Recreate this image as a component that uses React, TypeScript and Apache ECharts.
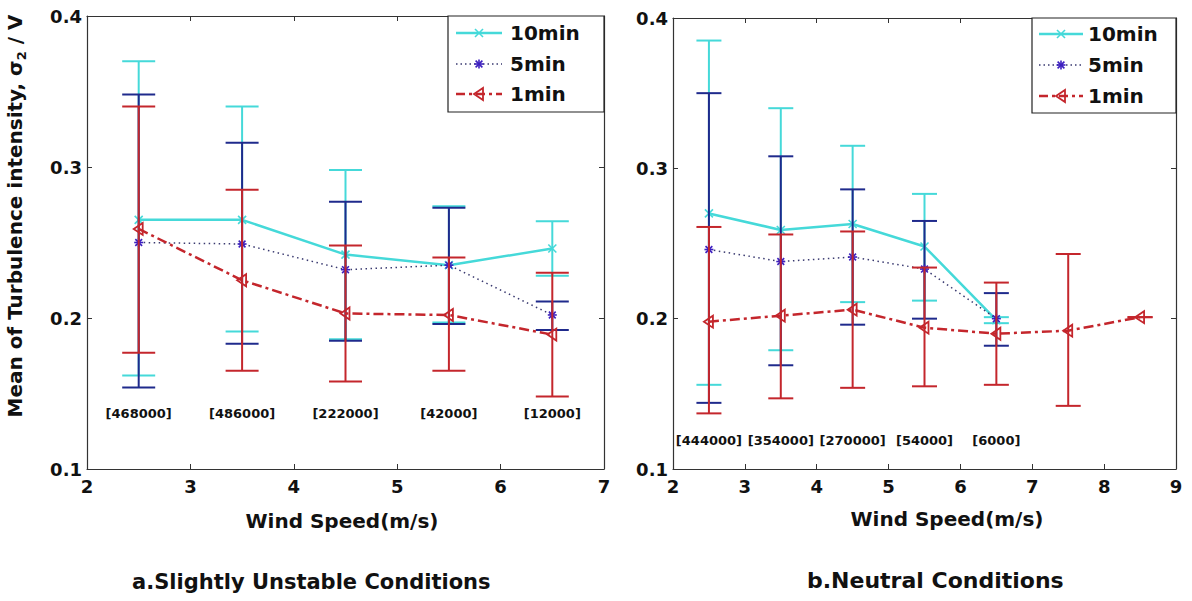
import React, { useEffect, useRef } from "react";
import * as echarts from "echarts";

// ---------- data: panel a (Slightly Unstable) ----------
const windA = [2.5, 3.5, 4.5, 5.5, 6.5];
const a10Mean = [0.265, 0.265, 0.242, 0.235, 0.246];
const a10Low = [0.162, 0.191, 0.186, 0.197, 0.228];
const a10High = [0.37, 0.34, 0.298, 0.274, 0.264];
const a5Mean = [0.25, 0.249, 0.232, 0.235, 0.202];
const a5Low = [0.154, 0.183, 0.185, 0.196, 0.192];
const a5High = [0.348, 0.316, 0.277, 0.273, 0.211];
const a1Mean = [0.259, 0.225, 0.203, 0.202, 0.189];
const a1Low = [0.177, 0.165, 0.158, 0.165, 0.148];
const a1High = [0.34, 0.285, 0.248, 0.24, 0.23];
const countsA = ["[468000]", "[486000]", "[222000]", "[42000]", "[12000]"];

// ---------- data: panel b (Neutral) ----------
const windB = [2.5, 3.5, 4.5, 5.5, 6.5];
const b10Mean = [0.27, 0.259, 0.263, 0.248, 0.199];
const b10Low = [0.156, 0.179, 0.211, 0.212, 0.197];
const b10High = [0.385, 0.34, 0.315, 0.283, 0.201];
const b5Mean = [0.246, 0.238, 0.241, 0.233, 0.2];
const b5Low = [0.144, 0.169, 0.196, 0.2, 0.182];
const b5High = [0.35, 0.308, 0.286, 0.265, 0.217];
const windB1 = [2.5, 3.5, 4.5, 5.5, 6.5, 7.5, 8.5];
const b1Mean = [0.198, 0.202, 0.206, 0.194, 0.19, 0.192, 0.201];
const b1Low = [0.137, 0.147, 0.154, 0.155, 0.156, 0.142, 0.201];
const b1High = [0.261, 0.256, 0.258, 0.234, 0.224, 0.243, 0.201];
const countsB = ["[444000]", "[354000]", "[270000]", "[54000]", "[6000]"];

const seriesNames = ["10min", "5min", "1min"];
const yTicks = { min: 0.1, max: 0.4, interval: 0.1 };

const FONT = '"DejaVu Sans", "Liberation Sans", sans-serif';
const CYAN = "#45d9d9";
const NAVY = "#1f2a8c";
const DOTS = "#3a3a70";
const STAR = "#3c1fc0";
const RED = "#c4262c";

function marker(kind: string, cx: number, cy: number, color: string): any[] {
  const st = { stroke: color, lineWidth: 1.6, fill: "none" };
  if (kind === "x") {
    const s = 4;
    return [
      { type: "line", shape: { x1: cx - s, y1: cy - s, x2: cx + s, y2: cy + s }, style: st },
      { type: "line", shape: { x1: cx - s, y1: cy + s, x2: cx + s, y2: cy - s }, style: st },
    ];
  }
  if (kind === "*") {
    const s = 4.5;
    const d = 3.4;
    return [
      { type: "line", shape: { x1: cx, y1: cy - s, x2: cx, y2: cy + s }, style: st },
      { type: "line", shape: { x1: cx - s, y1: cy, x2: cx + s, y2: cy }, style: st },
      { type: "line", shape: { x1: cx - d, y1: cy - d, x2: cx + d, y2: cy + d }, style: st },
      { type: "line", shape: { x1: cx - d, y1: cy + d, x2: cx + d, y2: cy - d }, style: st },
    ];
  }
  return [
    {
      type: "polygon",
      shape: { points: [[cx - 5, cy], [cx + 4, cy - 6], [cx + 4, cy + 6]] },
      style: { stroke: color, lineWidth: 1.8, fill: "none" },
    },
  ];
}

function lineSeries(name: string, xs: number[], ys: number[], idx: number, style: any, z: number) {
  return {
    type: "line",
    name,
    xAxisIndex: idx,
    yAxisIndex: idx,
    data: xs.map((x, i) => [x, ys[i]]),
    symbol: "none",
    lineStyle: style,
    z,
    silent: true,
  };
}

function errSeries(
  xs: number[], means: number[], lows: number[], highs: number[],
  barColor: string, kind: string, markColor: string, idx: number, capPx: number, z: number
) {
  return {
    type: "custom",
    xAxisIndex: idx,
    yAxisIndex: idx,
    z,
    silent: true,
    data: xs.map((x, i) => [x, means[i], lows[i], highs[i]]),
    renderItem: (params: any, api: any) => {
      const x = api.value(0);
      const m = api.coord([x, api.value(1)]);
      const lo = api.coord([x, api.value(2)]);
      const hi = api.coord([x, api.value(3)]);
      const st = { stroke: barColor, lineWidth: 2 };
      const h = capPx / 2;
      return {
        type: "group",
        children: [
          { type: "line", shape: { x1: lo[0], y1: lo[1], x2: hi[0], y2: hi[1] }, style: st },
          { type: "line", shape: { x1: lo[0] - h, y1: lo[1], x2: lo[0] + h, y2: lo[1] }, style: st },
          { type: "line", shape: { x1: hi[0] - h, y1: hi[1], x2: hi[0] + h, y2: hi[1] }, style: st },
          ...marker(kind, m[0], m[1], markColor),
        ],
      };
    },
  };
}

function countSeries(xs: number[], labels: string[], yPos: number, idx: number) {
  return {
    type: "custom",
    xAxisIndex: idx,
    yAxisIndex: idx,
    z: 20,
    silent: true,
    data: xs.map((x) => [x, yPos]),
    renderItem: (params: any, api: any) => {
      const p = api.coord([api.value(0), api.value(1)]);
      return {
        type: "text",
        x: p[0],
        y: p[1],
        style: {
          text: labels[params.dataIndex],
          font: `bold 13px ${FONT}`,
          fill: "#111",
          align: "center",
          verticalAlign: "middle",
        },
      };
    },
  };
}

function xAxis(gridIndex: number, max: number, position: string, showLabel: boolean) {
  return {
    type: "value",
    gridIndex,
    position,
    min: 2,
    max,
    interval: 1,
    axisLine: { show: true, onZero: false, lineStyle: { color: "#333", width: 1.2 } },
    axisTick: { show: true, inside: true, length: 5, lineStyle: { color: "#333" } },
    axisLabel: {
      show: showLabel,
      margin: 8,
      fontFamily: FONT,
      fontWeight: "bold",
      fontSize: 18,
      color: "#111",
    },
    splitLine: { show: false },
  };
}

function yAxis(gridIndex: number, position: string, showLabel: boolean) {
  return {
    type: "value",
    gridIndex,
    position,
    min: yTicks.min,
    max: yTicks.max,
    interval: yTicks.interval,
    axisLine: { show: true, onZero: false, lineStyle: { color: "#333", width: 1.2 } },
    axisTick: { show: true, inside: true, length: 5, lineStyle: { color: "#333" } },
    axisLabel: {
      show: showLabel,
      margin: 5,
      fontFamily: FONT,
      fontWeight: "bold",
      fontSize: 18,
      color: "#111",
      formatter: (v: number) => v.toFixed(1),
    },
    splitLine: { show: false },
  };
}

function legendGraphic(bx: number, by: number, bw: number, bh: number, lx1: number, lx2: number, tx: number, rows: number[]) {
  const mid = (lx1 + lx2) / 2;
  const styles = [
    { stroke: CYAN, lineWidth: 2.5 },
    { stroke: DOTS, lineWidth: 1.5, lineDash: [1.5, 3] },
    { stroke: RED, lineWidth: 2.5, lineDash: [9, 4, 3, 4] },
  ];
  const kinds = ["x", "*", "<"];
  const mcols = [CYAN, STAR, RED];
  const els: any[] = [
    { type: "rect", shape: { x: bx, y: by, width: bw, height: bh }, style: { fill: "#fff", stroke: "#222", lineWidth: 1.2 }, z: 50 },
  ];
  rows.forEach((ry, i) => {
    els.push({ type: "line", shape: { x1: lx1, y1: ry, x2: lx2, y2: ry }, style: styles[i], z: 51 });
    marker(kinds[i], mid, ry, mcols[i]).forEach((e) => els.push({ ...e, z: 52 }));
    els.push({
      type: "text",
      x: tx,
      y: ry,
      z: 52,
      style: { text: seriesNames[i], font: `bold 20px ${FONT}`, fill: "#111", verticalAlign: "middle", align: "left" },
    });
  });
  return els;
}

export default function App() {
  const ref = useRef<HTMLDivElement>(null);
  useEffect(() => {
    if (!ref.current) return;
    const chart = echarts.init(ref.current, null, { renderer: "svg" });
    const solid = { color: CYAN, width: 2.5, type: "solid" };
    const dotted = { color: DOTS, width: 1.5, type: [1.5, 3.5] };
    const dashdot = { color: RED, width: 2.5, type: [10, 4, 3, 4] };
    const option: any = {
      animation: false,
      backgroundColor: "#fff",
      grid: [
        { left: 87, top: 16, width: 517, height: 453 },
        { left: 673, top: 18, width: 503, height: 451 },
      ],
      xAxis: [
        xAxis(0, 7, "bottom", true),
        xAxis(1, 9, "bottom", true),
        xAxis(0, 7, "top", false),
        xAxis(1, 9, "top", false),
      ],
      yAxis: [
        yAxis(0, "left", true),
        yAxis(1, "left", true),
        yAxis(0, "right", false),
        yAxis(1, "right", false),
      ],
      series: [
        lineSeries("10min", windA, a10Mean, 0, solid, 2),
        errSeries(windA, a10Mean, a10Low, a10High, CYAN, "x", CYAN, 0, 33, 3),
        lineSeries("5min", windA, a5Mean, 0, dotted, 4),
        errSeries(windA, a5Mean, a5Low, a5High, NAVY, "*", STAR, 0, 33, 5),
        lineSeries("1min", windA, a1Mean, 0, dashdot, 6),
        errSeries(windA, a1Mean, a1Low, a1High, RED, "<", RED, 0, 33, 7),
        countSeries(windA, countsA, 0.137, 0),

        lineSeries("10min", windB, b10Mean, 1, solid, 2),
        errSeries(windB, b10Mean, b10Low, b10High, CYAN, "x", CYAN, 1, 25, 3),
        lineSeries("5min", windB, b5Mean, 1, dotted, 4),
        errSeries(windB, b5Mean, b5Low, b5High, NAVY, "*", STAR, 1, 25, 5),
        lineSeries("1min", windB1, b1Mean, 1, dashdot, 6),
        errSeries(windB1, b1Mean, b1Low, b1High, RED, "<", RED, 1, 25, 7),
        countSeries(windB, countsB, 0.119, 1),
      ],
      graphic: [
        ...legendGraphic(448, 16, 156, 96, 456, 502, 510, [33, 64, 94]),
        ...legendGraphic(1032, 18, 144, 95, 1039, 1083, 1088, [34, 65, 96]),
        {
          type: "text",
          x: 15,
          y: 216,
          rotation: Math.PI / 2,
          style: {
            text: "{a|Mean of Turbulence intensity, σ}{s|2}{a| / V}",
            align: "center",
            verticalAlign: "middle",
            rich: {
              a: { font: `bold 20px ${FONT}`, fill: "#111", lineHeight: 26, verticalAlign: "middle" },
              s: { font: `bold 13px ${FONT}`, fill: "#111", lineHeight: 26, padding: [12, 0, 0, 0], verticalAlign: "bottom" },
            },
          },
        },
        {
          type: "text",
          x: 342,
          y: 521,
          style: { text: "Wind Speed(m/s)", font: `bold 20px ${FONT}`, fill: "#111", align: "center", verticalAlign: "middle" },
        },
        {
          type: "text",
          x: 947,
          y: 519,
          style: { text: "Wind Speed(m/s)", font: `bold 20px ${FONT}`, fill: "#111", align: "center", verticalAlign: "middle" },
        },
        {
          type: "text",
          x: 132,
          y: 582,
          style: { text: "a.Slightly Unstable Conditions", font: `bold 21px ${FONT}`, fill: "#111", align: "left", verticalAlign: "middle" },
        },
        {
          type: "text",
          x: 807,
          y: 580,
          style: { text: "b.Neutral Conditions", font: `bold 22px ${FONT}`, fill: "#111", align: "left", verticalAlign: "middle" },
        },
      ],
    };
    chart.setOption(option);
    return () => chart.dispose();
  }, []);
  return (
    <div
      ref={ref}
      style={{ position: "absolute", left: 0, top: 0, width: 1192, height: 601, background: "#fff" }}
    />
  );
}
